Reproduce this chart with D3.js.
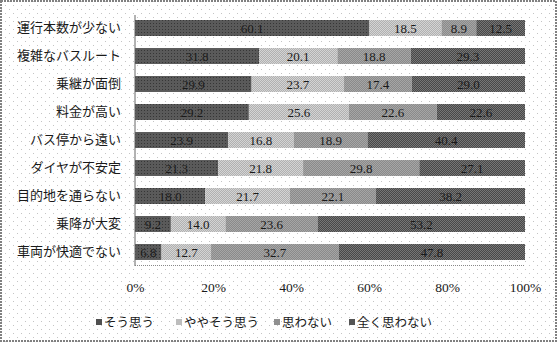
<!DOCTYPE html>
<html>
<head>
<meta charset="utf-8">
<script src="https://cdn.jsdelivr.net/npm/d3@7"></script>
<style>
  html, body { margin: 0; padding: 0; background: #fff; }
  svg { display: block; }
</style>
</head>
<body>
<svg id="chart" width="557" height="342"></svg>
<script>
// Survey items (reasons for not using the bus)
const categories = [
  "運行本数が少ない", "複雑なバスルート", "乗継が面倒", "料金が高い",
  "バス停から遠い", "ダイヤが不安定", "目的地を通らない", "乗降が大変", "車両が快適でない"
];
// Response shares (%), one array per answer
const soOmou      = [60.1, 31.8, 29.9, 29.2, 23.9, 21.3, 18.0, 9.2, 6.8];
const yayaSoOmou  = [18.5, 20.1, 23.7, 25.6, 16.8, 21.8, 21.7, 14.0, 12.7];
const omowanai    = [8.9, 18.8, 17.4, 22.6, 18.9, 29.8, 22.1, 23.6, 32.7];
const mattakuOmowanai = [12.5, 29.3, 29.0, 22.6, 40.4, 27.1, 38.2, 53.2, 47.8];
const seriesNames = ["そう思う", "ややそう思う", "思わない", "全く思わない"];
const tickValues = [0, 20, 40, 60, 80, 100];

const seriesValues = [soOmou, yayaSoOmou, omowanai, mattakuOmowanai];
const rows = categories.map((c, i) => {
  const r = { cat: c };
  seriesNames.forEach((s, j) => r[s] = seriesValues[j][i]);
  return r;
});

const svg = d3.select("#chart");
const W = 557, H = 342;
const margin = { left: 135, right: 32, top: 14, bottom: 76 };
const innerW = W - margin.left - margin.right;
const innerH = H - margin.top - margin.bottom;

const defs = svg.append("defs");

// dotted page background
const bg = defs.append("pattern").attr("id", "bgdots")
  .attr("width", 8).attr("height", 8).attr("patternUnits", "userSpaceOnUse");
bg.append("rect").attr("width", 8).attr("height", 8).attr("fill", "#fff");
bg.append("rect").attr("x", 1).attr("y", 1).attr("width", 1).attr("height", 1).attr("fill", "#c4c4c4");
bg.append("rect").attr("x", 5).attr("y", 5).attr("width", 1).attr("height", 1).attr("fill", "#c4c4c4");

// textured fills for the four answers
function checker(id, a, b) {
  const p = defs.append("pattern").attr("id", id)
    .attr("width", 2).attr("height", 2).attr("patternUnits", "userSpaceOnUse");
  p.append("rect").attr("width", 2).attr("height", 2).attr("fill", a);
  p.append("rect").attr("width", 1).attr("height", 1).attr("fill", b);
  p.append("rect").attr("x", 1).attr("y", 1).attr("width", 1).attr("height", 1).attr("fill", b);
}
function dotted(id, base, dot) {
  const p = defs.append("pattern").attr("id", id)
    .attr("width", 3).attr("height", 3).attr("patternUnits", "userSpaceOnUse");
  p.append("rect").attr("width", 3).attr("height", 3).attr("fill", base);
  p.append("rect").attr("width", 1).attr("height", 1).attr("fill", dot);
}
dotted("p0", "#5a5a5a", "#363636");
checker("p1", "#d4d4d4", "#b0b0b0");
checker("p2", "#a6a6a6", "#8a8a8a");
checker("p3", "#767676", "#484848");
const fills = ["url(#p0)", "url(#p1)", "url(#p2)", "url(#p3)"];
const legendFills = ["#505050", "#bdbdbd", "#909090", "#555"];

svg.append("rect").attr("width", W).attr("height", H).attr("fill", "url(#bgdots)");
svg.append("rect").attr("x", 1).attr("y", 1).attr("width", W - 2).attr("height", H - 2)
  .attr("fill", "none").attr("stroke", "#808080").attr("stroke-width", 2)
  .attr("stroke-dasharray", "2,1");

const x = d3.scaleLinear().domain([0, 100]).range([0, innerW]);
const y = d3.scaleBand().domain(categories).range([0, innerH]).paddingInner(0.43).paddingOuter(0.215);

const g = svg.append("g").attr("transform", `translate(${margin.left},${margin.top})`);

const stack = d3.stack().keys(seriesNames)(rows);

const layers = g.selectAll("g.layer").data(stack).join("g")
  .attr("class", "layer")
  .attr("fill", (d, i) => fills[i]);

layers.selectAll("rect").data(d => d).join("rect")
  .attr("x", d => x(d[0]))
  .attr("y", d => y(d.data.cat))
  .attr("width", d => x(d[1]) - x(d[0]))
  .attr("height", y.bandwidth());

layers.selectAll("text").data(d => d.map(v => ({ v, key: d.key }))).join("text")
  .attr("x", d => (x(d.v[0]) + x(d.v[1])) / 2)
  .attr("y", d => y(d.v.data.cat) + y.bandwidth() / 2)
  .attr("dy", "0.36em")
  .attr("text-anchor", "middle")
  .attr("font-family", "'Liberation Serif', 'DejaVu Serif', serif")
  .attr("font-size", 13)
  .attr("fill", "#1a1a1a")
  .text(d => d.v.data[d.key].toFixed(1));

// axes
g.append("line").attr("x1", 0).attr("x2", 0).attr("y1", 1).attr("y2", innerH)
  .attr("stroke", "#666").attr("stroke-width", 1);
g.append("line").attr("x1", 0).attr("x2", innerW).attr("y1", innerH - 0.5).attr("y2", innerH - 0.5)
  .attr("stroke", "#888").attr("stroke-width", 1).attr("stroke-dasharray", "1,1");

const xAxis = g.append("g").attr("transform", `translate(0,${innerH})`)
  .call(d3.axisBottom(x).tickValues(tickValues).tickSize(0).tickPadding(16).tickFormat(d => d + "%"));
xAxis.select(".domain").remove();
xAxis.selectAll("text")
  .attr("font-family", "'Liberation Serif', 'DejaVu Serif', serif")
  .attr("font-size", 13.5).attr("fill", "#1a1a1a");

const yAxis = g.append("g")
  .call(d3.axisLeft(y).tickSize(0).tickPadding(14));
yAxis.select(".domain").remove();
yAxis.selectAll("text")
  .attr("font-family", "'Noto Sans CJK JP', sans-serif")
  .attr("font-size", 13).attr("fill", "#1a1a1a");

// legend
const legendX = [96, 176, 274, 349];
const legend = svg.append("g").attr("transform", "translate(0,322)");
seriesNames.forEach((name, i) => {
  const it = legend.append("g").attr("transform", `translate(${legendX[i]},0)`);
  it.append("rect").attr("x", 0).attr("y", -3).attr("width", 6).attr("height", 6)
    .attr("fill", legendFills[i]);
  it.append("text").attr("x", 8).attr("y", 0).attr("dy", "0.36em")
    .attr("font-family", "'Noto Sans CJK JP', sans-serif")
    .attr("font-size", 12.5).attr("fill", "#1a1a1a")
    .text(name);
});
</script>
</body>
</html>
